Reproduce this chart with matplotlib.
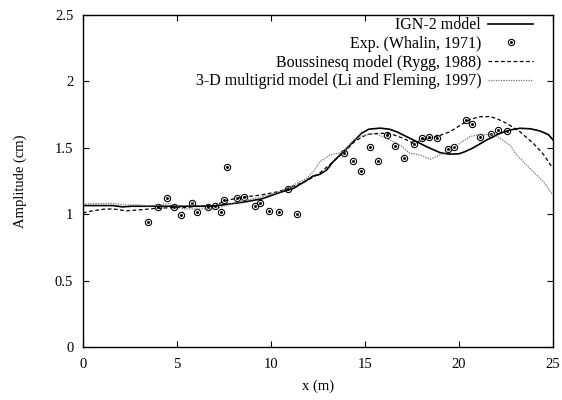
import matplotlib
matplotlib.use('Agg')
import matplotlib.pyplot as plt
from matplotlib.legend_handler import HandlerTuple

plt.rcParams['font.family'] = ['Liberation Serif', 'DejaVu Serif']
plt.rcParams['font.size'] = 10.5

# IGN-2 model (solid)
ign_x = [0, 1.0, 1.6, 2.1, 2.6, 3.5, 4.5, 5.5, 6.5, 7.0, 7.7, 8.5, 9.5, 10.5, 11.2,
         11.9, 12.25, 12.6, 12.96, 13.3, 13.85, 14.38, 14.82, 15.2, 15.8, 16.3, 16.7,
         17.57, 18.28, 19.0, 19.5, 20.0, 20.3, 20.76, 21.47, 22.18, 22.7, 23.24, 23.8,
         24.3, 24.75, 25]
ign_y = [1.065, 1.065, 1.065, 1.055, 1.06, 1.06, 1.06, 1.06, 1.06, 1.062, 1.075, 1.09,
         1.115, 1.165, 1.195, 1.255, 1.288, 1.30, 1.333, 1.395, 1.47, 1.546, 1.61, 1.64,
         1.648, 1.64, 1.62, 1.559, 1.508, 1.463, 1.452, 1.455, 1.47, 1.50, 1.559, 1.609,
         1.634, 1.647, 1.643, 1.627, 1.60, 1.56]

# Exp. (Whalin, 1971)
exp_x = [3.47, 3.97, 4.45, 4.86, 5.21, 5.78, 6.08, 6.63, 7.02, 7.34, 7.5, 7.64, 8.21,
         8.58, 9.13, 9.43, 9.91, 10.44, 10.92, 11.37, 13.9, 14.38, 14.8, 15.27, 15.67,
         16.19, 16.6, 17.09, 17.62, 18.05, 18.4, 18.81, 19.43, 19.75, 20.36, 20.71,
         21.12, 21.69, 22.09, 22.57]
exp_y = [0.943, 1.056, 1.124, 1.056, 0.994, 1.087, 1.019, 1.056, 1.062, 1.014, 1.107,
         1.353, 1.124, 1.132, 1.064, 1.087, 1.026, 1.017, 1.187, 1.004, 1.458, 1.403,
         1.325, 1.503, 1.403, 1.596, 1.514, 1.421, 1.526, 1.571, 1.584, 1.571, 1.493,
         1.503, 1.709, 1.677, 1.584, 1.601, 1.634, 1.627]

# Boussinesq model (Rygg, 1988) (dashed)
bous_x = [0, 0.5, 1.06, 1.6, 2.3, 3.2, 3.9, 4.8, 5.5, 6.0, 7.0, 7.5, 8.2, 8.9, 9.5,
          10.4, 10.9, 11.8, 12.5, 13.1, 13.9, 14.47, 15.09, 15.8, 16.4, 17.04, 17.57,
          18.1, 18.81, 19.52, 20.23, 20.6, 21.12, 21.65, 22.0, 22.54, 23.24, 23.95,
          24.49, 24.93, 25]
bous_y = [1.01, 1.025, 1.037, 1.04, 1.025, 1.035, 1.044, 1.05, 1.05, 1.06, 1.06, 1.10,
          1.12, 1.135, 1.145, 1.17, 1.195, 1.245, 1.30, 1.37, 1.47, 1.55, 1.60, 1.61,
          1.604, 1.571, 1.534, 1.564, 1.584, 1.621, 1.684, 1.714, 1.734, 1.735, 1.72,
          1.684, 1.621, 1.534, 1.451, 1.358, 1.35]

# 3-D multigrid model (Li and Fleming, 1997) (dotted)
mg_x = [0, 0.5, 1.5, 2.3, 3.0, 3.4, 4.0, 4.6, 5.0, 5.3, 6.2, 7.0, 7.7, 8.5, 9.5, 10.5,
        11.2, 11.9, 12.25, 12.6, 13.13, 13.57, 13.85, 14.4, 14.9, 15.3, 15.7, 16.15,
        16.86, 17.39, 17.93, 18.46, 18.99, 19.52, 20.05, 20.59, 21.12, 21.83, 22.18,
        22.71, 23.07, 23.42, 23.95, 24.49, 24.93, 25]
mg_y = [1.075, 1.08, 1.082, 1.07, 1.07, 1.06, 1.07, 1.08, 1.06, 1.04, 1.04, 1.04, 1.07,
        1.10, 1.13, 1.17, 1.22, 1.27, 1.32, 1.395, 1.446, 1.458, 1.47, 1.56, 1.59, 1.605,
        1.60, 1.571, 1.521, 1.458, 1.446, 1.413, 1.446, 1.483, 1.534, 1.585, 1.60, 1.60,
        1.571, 1.521, 1.446, 1.395, 1.32, 1.245, 1.157, 1.15]

fig = plt.figure(figsize=(5.62, 4.0), dpi=100)
ax = fig.add_axes([0.1477, 0.1325, 0.8363, 0.83])

l1, = ax.plot(ign_x, ign_y, color='black', lw=1.2)
p_ring, = ax.plot(exp_x, exp_y, ls='none', marker='o', ms=4.5, mfc='none', mec='black', mew=0.8)
p_dot, = ax.plot(exp_x, exp_y, ls='none', marker='o', ms=1.1, mfc='black', mec='black')
l3, = ax.plot(bous_x, bous_y, color='black', lw=0.9, ls=(0, (3, 2)))
l4, = ax.plot(mg_x, mg_y, color='0.45', lw=0.9, ls=(0, (1, 1)))

ax.set_xlim(0, 25)
ax.set_ylim(0, 2.5)
ax.set_xticks([0, 5, 10, 15, 20, 25])
ax.set_xticklabels(['0', '5', '10', '15', '20', '25'])
ax.set_yticks([0, 0.5, 1, 1.5, 2, 2.5])
ax.set_yticklabels(['0', '0.5', '1', '1.5', '2', '2.5'])
ax.tick_params(direction='in', top=True, right=True, length=4, width=0.8)
ax.tick_params(axis='x', pad=8)
ax.tick_params(axis='y', pad=7)
for s in ax.spines.values():
    s.set_linewidth(1.0)

ax.set_xlabel('x (m)', labelpad=6)
ax.set_ylabel('Amplitude (cm)', labelpad=20)

ax.legend([l1, (p_ring, p_dot), l3, l4],
          ['IGN-2 model', 'Exp. (Whalin, 1971)', 'Boussinesq model (Rygg, 1988)',
           '3-D multigrid model (Li and Fleming, 1997)'],
          handler_map={tuple: HandlerTuple(ndivide=1)},
          loc='upper right', bbox_to_anchor=(0.978, 1.022), frameon=False,
          markerfirst=False, handlelength=2.8, handletextpad=0.45,
          labelspacing=0.17, borderaxespad=0.2, fontsize=11.5)

plt.savefig('out.png', dpi=100)
